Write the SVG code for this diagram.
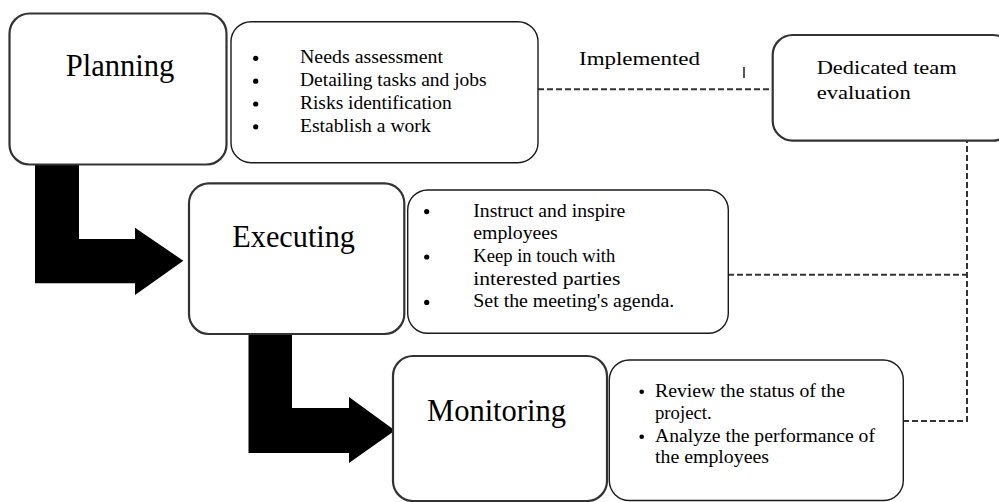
<svg xmlns="http://www.w3.org/2000/svg" width="999" height="502" viewBox="0 0 999 502">
  <defs>
    <style>
      .stage { fill: #fff; stroke: #333; stroke-width: 2.2; }
      .list { fill: #fff; stroke: #1a1a1a; stroke-width: 1.4; }
      .title { font-family: "Liberation Serif", "Times New Roman", serif; font-size: 31px; fill: #000; }
      .item { font-family: "Liberation Serif", "Times New Roman", serif; font-size: 18.5px; fill: #000; }
      .note { font-family: "Liberation Serif", "Times New Roman", serif; font-size: 19.5px; fill: #000; }
      .dot { fill: #000; }
      .dash { fill: none; stroke: #333; stroke-width: 2; stroke-dasharray: 6 3; }
      .flow { fill: #000; }
    </style>
  </defs>

  <rect width="999" height="502" fill="#fff"/>

  <!-- thick stepped arrows between stages -->
  <g id="flow-arrows">
    <path class="flow" d="M35,164 H79 V239 H135 V227.7 L183.3,260.7 L135,295 V283.3 H35 Z"/>
    <path class="flow" d="M248.5,334 H292 V408 H349 V397 L395,430.5 L349,463 V453 H248.5 Z"/>
  </g>

  <!-- dashed links to the evaluation box -->
  <g id="connectors">
    <path class="dash" d="M538,89.3 H773"/>
    <path class="dash" d="M728,274.7 H967"/>
    <path class="dash" d="M903,421 H967 V140.7"/>
    <line x1="744" y1="67" x2="744" y2="78" stroke="#444" stroke-width="1.8"/>
  </g>

  <g id="implemented-label">
    <text class="note" x="579" y="65" textLength="121" lengthAdjust="spacingAndGlyphs">Implemented</text>
  </g>

  <g id="planning">
    <rect class="stage" x="9.5" y="13.5" width="217" height="151" rx="20"/>
    <text class="title" x="65.7" y="76" textLength="108.7" lengthAdjust="spacingAndGlyphs">Planning</text>
  </g>

  <g id="planning-tasks">
    <rect class="list" x="231" y="21.7" width="307" height="141" rx="20"/>
    <circle class="dot" cx="255.7" cy="58.3" r="2.6"/>
    <circle class="dot" cx="255.7" cy="81.2" r="2.6"/>
    <circle class="dot" cx="255.7" cy="104" r="2.6"/>
    <circle class="dot" cx="255.7" cy="126.8" r="2.6"/>
    <text class="item" x="300" y="63.3" textLength="143" lengthAdjust="spacingAndGlyphs">Needs assessment</text>
    <text class="item" x="300" y="86.2" textLength="186.7" lengthAdjust="spacingAndGlyphs">Detailing tasks and jobs</text>
    <text class="item" x="300" y="109" textLength="151.7" lengthAdjust="spacingAndGlyphs">Risks identification</text>
    <text class="item" x="300" y="131.8" textLength="130.7" lengthAdjust="spacingAndGlyphs">Establish a work</text>
  </g>

  <g id="evaluation">
    <rect class="stage" x="772.7" y="35" width="240" height="105.7" rx="20"/>
    <text class="note" x="816.7" y="74" textLength="140" lengthAdjust="spacingAndGlyphs">Dedicated team</text>
    <text class="note" x="816.7" y="99.3" textLength="94" lengthAdjust="spacingAndGlyphs">evaluation</text>
  </g>

  <g id="executing">
    <rect class="stage" x="189" y="183.3" width="215.3" height="150.7" rx="20"/>
    <text class="title" x="232.3" y="246.7" textLength="122.7" lengthAdjust="spacingAndGlyphs">Executing</text>
  </g>

  <g id="executing-tasks">
    <rect class="list" x="407.7" y="190" width="320.6" height="143.3" rx="20"/>
    <circle class="dot" cx="426.7" cy="211.6" r="2.6"/>
    <circle class="dot" cx="426.7" cy="257" r="2.6"/>
    <circle class="dot" cx="426.7" cy="302.4" r="2.6"/>
    <text class="item" x="473.3" y="216.6" textLength="152" lengthAdjust="spacingAndGlyphs">Instruct and inspire</text>
    <text class="item" x="473.3" y="239.3" textLength="84.5" lengthAdjust="spacingAndGlyphs">employees</text>
    <text class="item" x="473.3" y="262" textLength="142" lengthAdjust="spacingAndGlyphs">Keep in touch with</text>
    <text class="item" x="473.3" y="284.7" textLength="147" lengthAdjust="spacingAndGlyphs">interested parties</text>
    <text class="item" x="473.3" y="307.4" textLength="201" lengthAdjust="spacingAndGlyphs">Set the meeting's agenda.</text>
  </g>

  <g id="monitoring">
    <rect class="stage" x="393" y="356" width="214" height="145" rx="20"/>
    <text class="title" x="427" y="420.7" textLength="139" lengthAdjust="spacingAndGlyphs">Monitoring</text>
  </g>

  <g id="monitoring-tasks">
    <rect class="list" x="609.3" y="360" width="294" height="140.5" rx="20"/>
    <circle class="dot" cx="641.7" cy="391.7" r="2.3"/>
    <circle class="dot" cx="641.7" cy="436.7" r="2.3"/>
    <text class="item" x="655" y="396.7" textLength="190" lengthAdjust="spacingAndGlyphs">Review the status of the</text>
    <text class="item" x="655" y="419" textLength="56.7" lengthAdjust="spacingAndGlyphs">project.</text>
    <text class="item" x="655" y="441.7" textLength="220" lengthAdjust="spacingAndGlyphs">Analyze the performance of</text>
    <text class="item" x="655" y="463.3" textLength="114" lengthAdjust="spacingAndGlyphs">the employees</text>
  </g>
</svg>
